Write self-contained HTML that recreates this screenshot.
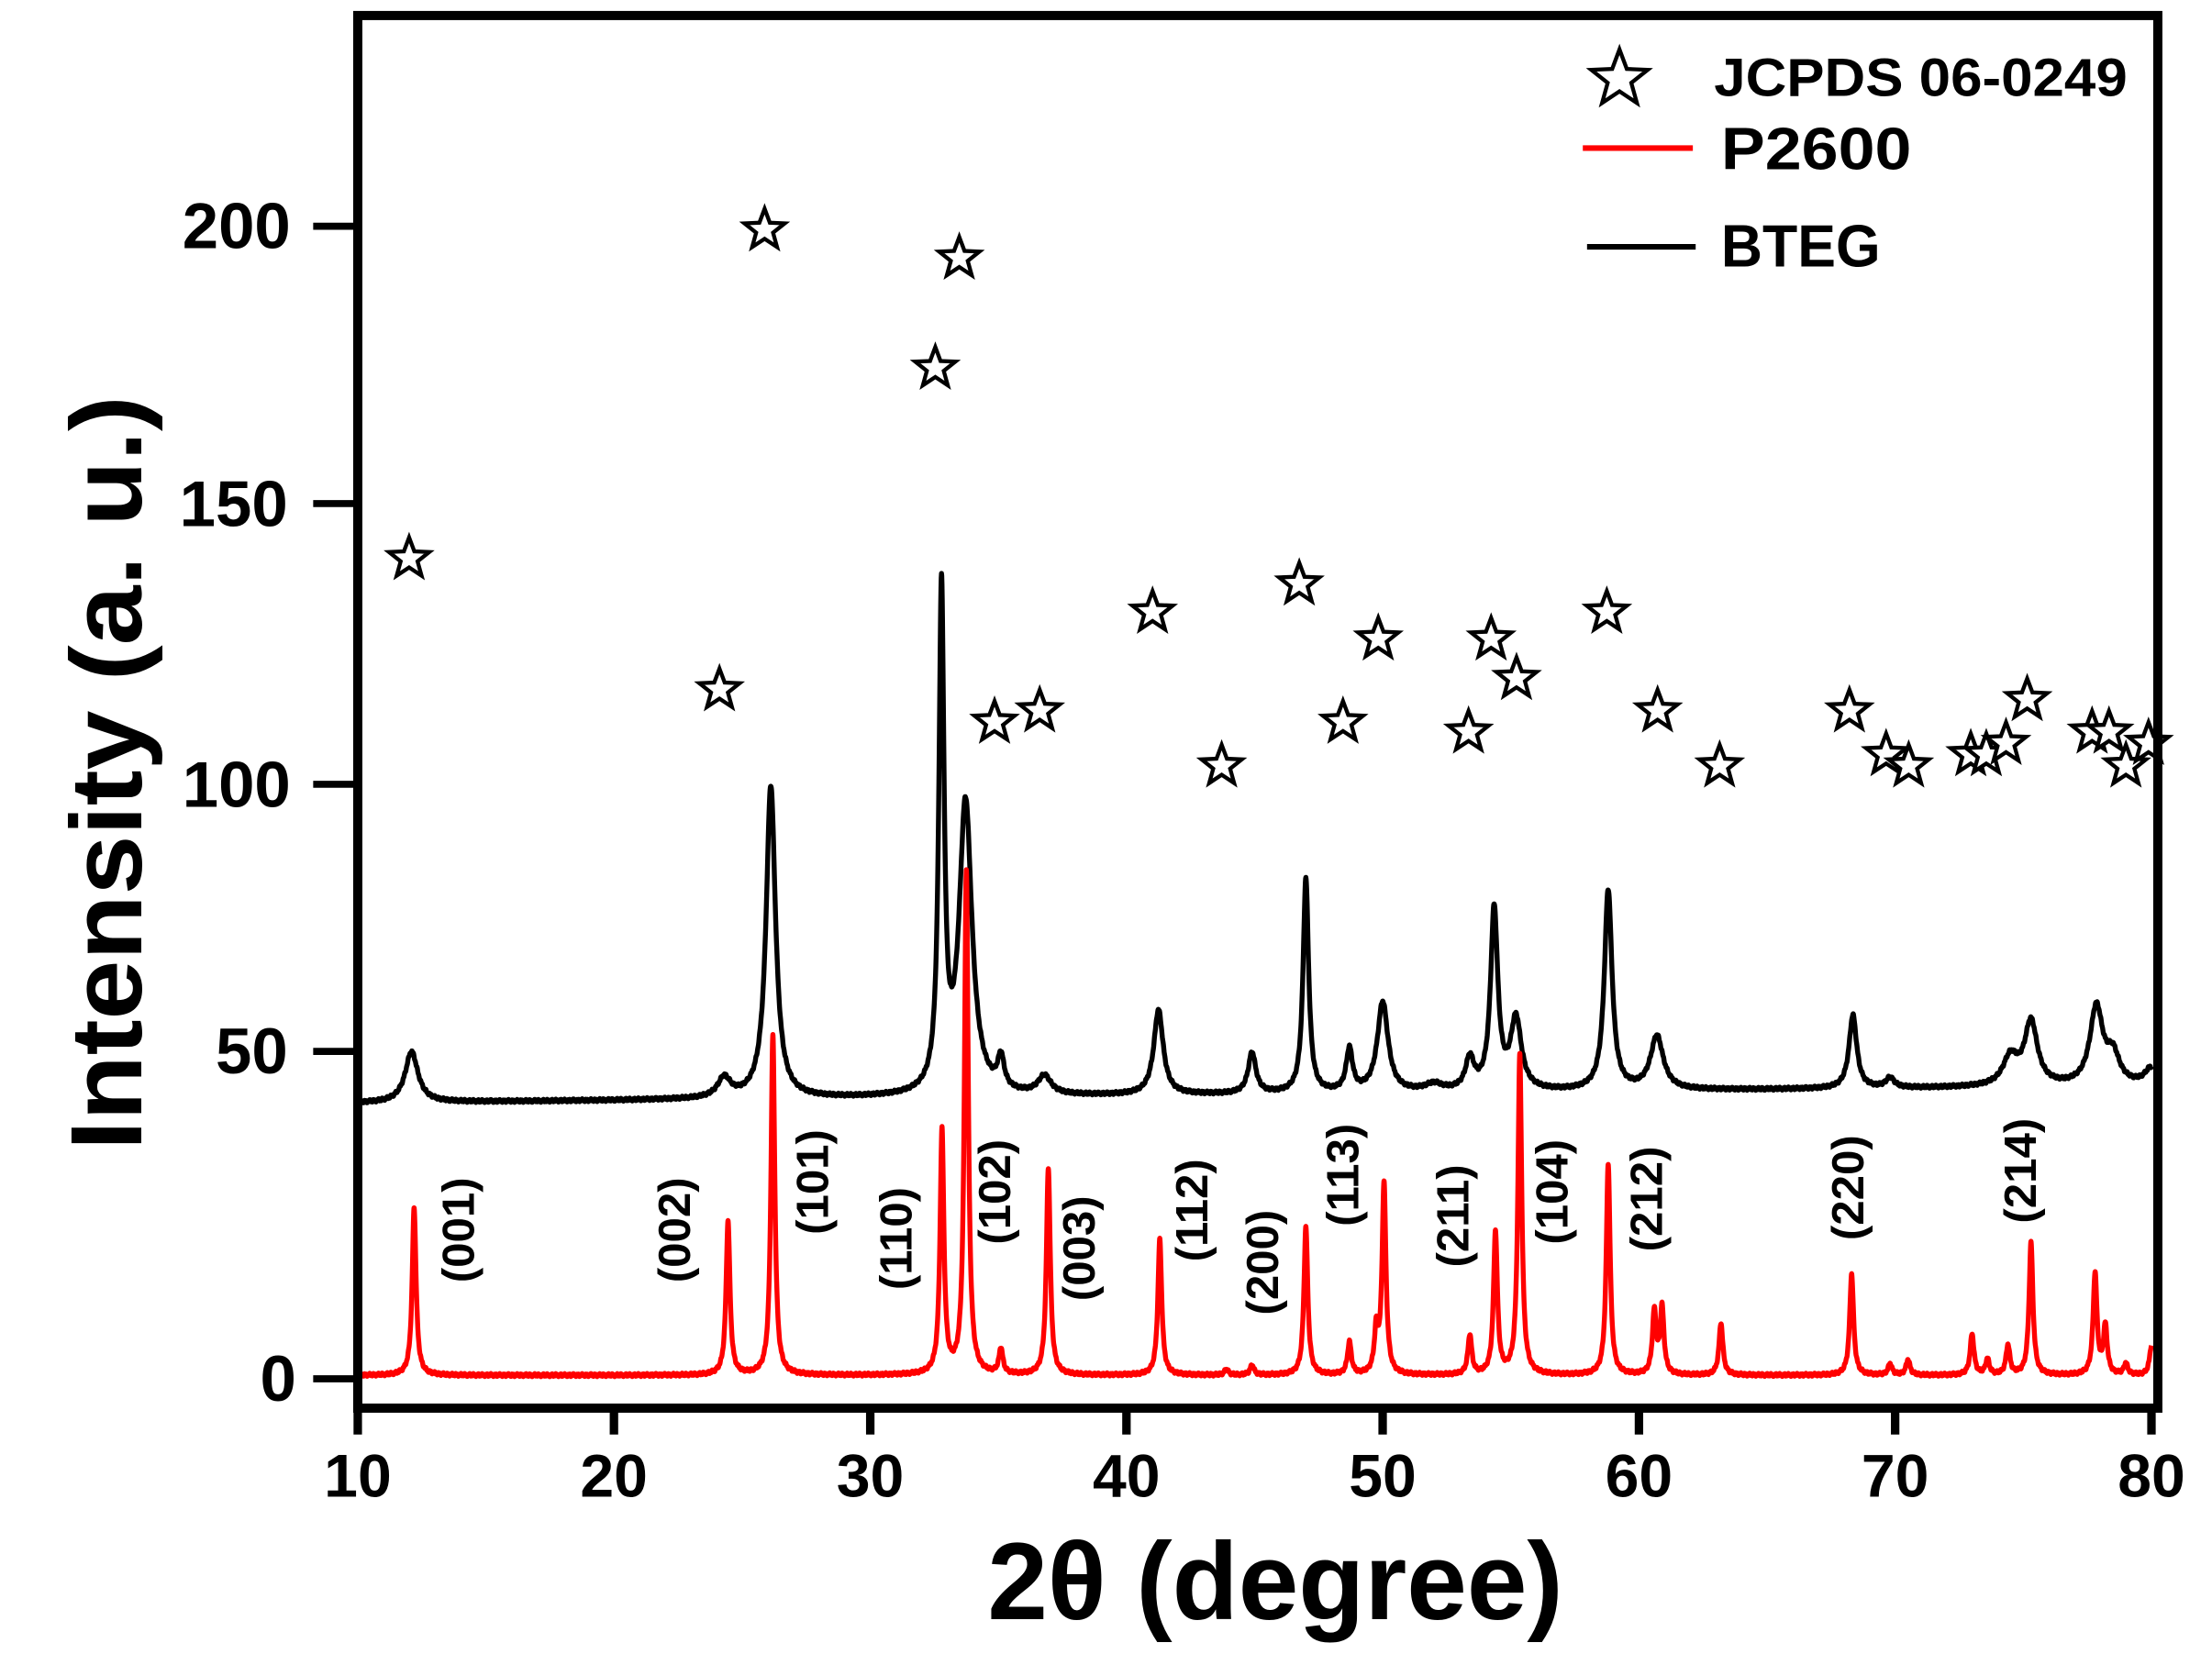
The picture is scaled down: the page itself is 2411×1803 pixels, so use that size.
<!DOCTYPE html>
<html><head><meta charset="utf-8"><style>
html,body{margin:0;padding:0;background:#fff;}
svg{display:block;}
text{font-family:"Liberation Sans",sans-serif;font-weight:bold;fill:#000;}
</style></head><body>
<svg id="s" width="2411" height="1803" viewBox="0 0 1568 1172.6" xmlns="http://www.w3.org/2000/svg">
<rect x="0" y="0" width="1568" height="1172.6" fill="#fff"/>
<path id="blk" fill="none" stroke="#000" stroke-width="3.5" stroke-linejoin="round"/>
<path id="red" fill="none" stroke="#f00" stroke-width="3.5" stroke-linejoin="round"/>
<g id="stars" fill="#fff" stroke="#000" stroke-width="2.8" stroke-linejoin="miter"></g>
<rect x="253.6" y="11" width="1276" height="987.3" fill="none" stroke="#000" stroke-width="6.5"/>
<g stroke="#000" stroke-width="5">
<line x1="222" y1="160.4" x2="253" y2="160.4"/>
<line x1="222" y1="357" x2="253" y2="357"/>
<line x1="222" y1="556" x2="253" y2="556"/>
<line x1="222" y1="745.4" x2="253" y2="745.4"/>
<line x1="222" y1="977.5" x2="253" y2="977.5"/>
</g>
<g stroke="#000" stroke-width="6">
<line x1="253.6" y1="998" x2="253.6" y2="1017"/>
<line x1="435.2" y1="998" x2="435.2" y2="1017"/>
<line x1="616.9" y1="998" x2="616.9" y2="1017"/>
<line x1="798.5" y1="998" x2="798.5" y2="1017"/>
<line x1="980.1" y1="998" x2="980.1" y2="1017"/>
<line x1="1161.8" y1="998" x2="1161.8" y2="1017"/>
<line x1="1343.4" y1="998" x2="1343.4" y2="1017"/>
<line x1="1525.1" y1="998" x2="1525.1" y2="1017"/>
</g>
<g font-size="46" text-anchor="end">
<text x="206" y="176">200</text>
<text x="204" y="373">150</text>
<text x="206" y="572">100</text>
<text x="204" y="761">50</text>
<text x="210" y="993">0</text>
</g>
<g font-size="43" text-anchor="middle">
<text x="253.6" y="1061">10</text>
<text x="435.2" y="1061">20</text>
<text x="616.9" y="1061">30</text>
<text x="798.5" y="1061">40</text>
<text x="980.1" y="1061">50</text>
<text x="1161.8" y="1061">60</text>
<text x="1343.4" y="1061">70</text>
<text x="1525.1" y="1061">80</text>
</g>
<text x="904" y="1148" font-size="78" text-anchor="middle" textLength="408" lengthAdjust="spacingAndGlyphs">2θ (degree)</text>
<text transform="translate(100,548) rotate(-90)" font-size="72" text-anchor="middle" textLength="535" lengthAdjust="spacingAndGlyphs">Intensity (a. u.)</text>
<g id="legstar" fill="#fff" stroke="#000" stroke-width="2.8"></g>
<text x="1215" y="68" font-size="38" textLength="293" lengthAdjust="spacingAndGlyphs">JCPDS 06-0249</text>
<line x1="1122" y1="105" x2="1200" y2="105" stroke="#f00" stroke-width="4"/>
<text x="1220" y="120" font-size="42" textLength="135" lengthAdjust="spacingAndGlyphs">P2600</text>
<line x1="1125" y1="175" x2="1202" y2="175" stroke="#000" stroke-width="4"/>
<text x="1220" y="189" font-size="42" textLength="113" lengthAdjust="spacingAndGlyphs">BTEG</text>
<g id="hkl" font-size="32" text-anchor="middle"></g>
</svg>
<script>
var NS="http://www.w3.org/2000/svg";
function X(t){return 253.6+(t-10)*18.164;}
function curve(base0,base1,peaks,step){
  var d="";
  for(var t=10;t<=80.0001;t+=step){
    var y=base0+(base1-base0)*(t-10)/70;
    for(var i=0;i<peaks.length;i++){var p=peaks[i];var u=(t-p[0])/p[2];y-=p[1]/(1+u*u);}
    y+=Math.sin(t*37.1)*0.6+Math.sin(t*91.7)*0.5;
    d+=(d?"L":"M")+X(t).toFixed(2)+" "+y.toFixed(2);
  }
  return d;
}
var bp=[[12.1,36,0.3],[24.3,14,0.3],[26.12,222,0.22],[32.78,352,0.12],[33.72,207,0.3],[35.1,22,0.15],[36.8,13,0.3],[41.25,60,0.22],[44.9,29,0.18],[47.0,152,0.13],[48.7,30,0.15],[50.0,64,0.25],[52.0,5,0.4],[53.4,22,0.2],[54.35,128,0.17],[55.2,50,0.25],[58.8,142,0.18],[60.7,38,0.3],[68.35,52,0.18],[69.8,7,0.2],[74.5,20,0.35],[75.3,45,0.3],[77.85,55,0.3],[78.5,20,0.3],[80,12,0.3]];
document.getElementById("blk").setAttribute("d",curve(782,770,bp,0.01));
var rp=[[12.2,119],[24.45,109],[26.2,241],[32.8,172],[33.75,357],[35.1,18],[36.95,147],[41.3,96],[43.9,4],[44.9,7],[47.0,105],[48.7,23],[49.75,30],[50.05,135],[53.4,28],[54.4,101],[55.35,226],[58.8,150],[60.6,44],[60.9,47],[63.2,37],[68.3,72],[69.8,8],[70.5,11],[73.0,29],[73.6,11],[74.4,21],[75.3,94],[77.8,72],[78.2,34],[79.0,8],[80.0,21]];
rp=rp.map(function(p){return [p[0],p[1],0.09];});
document.getElementById("red").setAttribute("d",curve(975,975,rp,0.005));
function star(cx,cy,R,r){var s="";for(var i=0;i<10;i++){var a=-Math.PI/2+i*Math.PI/5;var rr=i%2?r:R;s+=(cx+rr*Math.cos(a)).toFixed(2)+","+(cy+rr*Math.sin(a)).toFixed(2)+" ";}var p=document.createElementNS(NS,"polygon");p.setAttribute("points",s);return p;}
var st=[[290,395],[510,488],[542,162],[663,260],[680,182],[705,511],[737,503],[817,433],[866,542],[921,413],[952,511],[977,452],[1041,518],[1057,452],[1075,480],[1139,433],[1175,503],[1219,542],[1311,503],[1337,534],[1353,542],[1397,534],[1408,534],[1422,526],[1437,495],[1483,518],[1495,518],[1507,542],[1523,526]];
var g=document.getElementById("stars");
st.forEach(function(s){g.appendChild(star(s[0],s[1]+1,15,6.3));});
document.getElementById("legstar").appendChild(star(1148,56,21,8.8));
var hk=[["(001)",325,872],["(002)",478,872],["(101)",576,838],["(110)",635,878],["(102)",705,845],["(003)",765,885],["(112)",845,858],["(200)",895,895],["(113)",952,833],["(211)",1030,862],["(104)",1100,845],["(212)",1167,850],["(220)",1310,842],["(214)",1432,830]];
var hg=document.getElementById("hkl");
hk.forEach(function(h){var t=document.createElementNS(NS,"text");t.setAttribute("transform","translate("+h[1]+","+h[2]+") rotate(-90)");t.setAttribute("y","11");t.textContent=h[0];hg.appendChild(t);});
</script>
</body></html>
